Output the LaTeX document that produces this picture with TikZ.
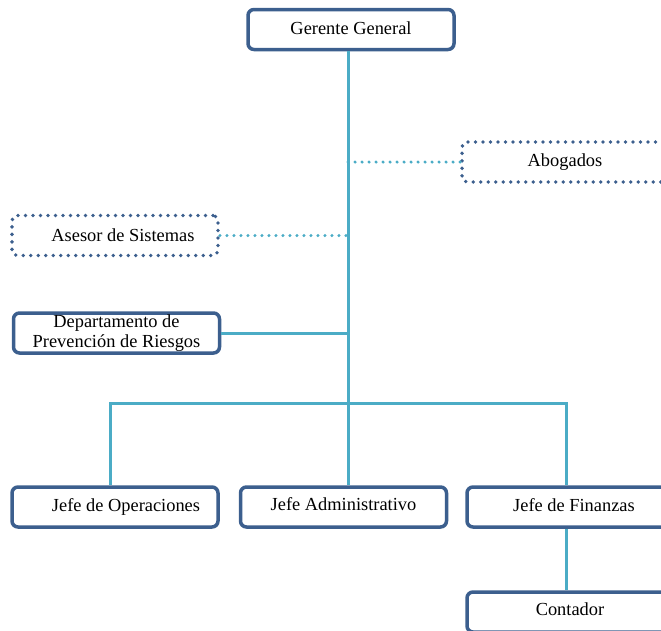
\documentclass[tikz,border=0pt]{standalone}
\usepackage{fontspec}
\setmainfont{Liberation Serif}
\usepackage{tikz}
\usetikzlibrary{positioning}

\definecolor{bordeazul}{RGB}{60,95,142}
\definecolor{lineaceleste}{RGB}{75,172,198}

\tikzset{
	cargo/.style={draw=bordeazul, line width=3.5pt, rounded corners=6pt, fill=white,
		minimum width=206pt, minimum height=40pt, inner sep=0pt, align=center,
		font=\fontsize{18.4}{20.5}\selectfont},
	asesoria/.style={cargo, line width=3.8pt, rounded corners=5pt,
		dash pattern=on 0pt off 7.5pt, line cap=round},
	enlace/.style={draw=lineaceleste, line width=3pt},
	enlacepunteado/.style={enlace, line width=3.3pt, dash pattern=on 0pt off 7pt, line cap=round}
}

\begin{document}
\begin{tikzpicture}[x=1pt, y=-1pt]
			\useasboundingbox (0,0) rectangle (661,630);
			
			% Nodos del organigrama
			\node[cargo] (gerente) at (351, 29.5) {\raisebox{2pt}{Gerente General}};
			\node[asesoria] (abogados) at (565, 162) {\raisebox{4pt}{Abogados}};
			\node[asesoria] (asesor) at (115, 235.5) {\hspace*{16pt}Asesor de Sistemas};
			\node[cargo] (depto) at (116.5, 333) {Departamento de\\Prevención de Riesgos};
			\node[cargo] (operaciones) at (115, 507) {\hspace*{22pt}Jefe de Operaciones};
			\node[cargo] (administrativo) at (343.5, 507) {\raisebox{6pt}{Jefe Administrativo}};
			\node[cargo] (finanzas) at (570, 507) {\hspace*{8pt}\raisebox{3pt}{Jefe de Finanzas}};
			\node[cargo] (contador) at (570, 612) {\raisebox{6pt}{Contador}};
			
			% Puntos de la linea de mando
			\coordinate (tronco) at (348, 403);
			\coordinate (ramaizq) at (110, 403);
			\coordinate (ramader) at (566, 403);
			
			% Lineas de mando
			\draw[enlace] (gerente.south -| tronco) -- (tronco |- administrativo.north);
			\draw[enlace] (ramaizq |- operaciones.north) -- (ramaizq) -- (ramader) -- (ramader |- finanzas.north);
			\draw[enlace] (depto.east) -- (depto.east -| tronco);
			\draw[enlace] (ramader |- finanzas.south) -- (ramader |- contador.north);
			
			% Lineas de asesoria
			\draw[enlacepunteado] (abogados.west) -- (abogados.west -| tronco);
			\draw[enlacepunteado] (asesor.east) -- (asesor.east -| tronco);
		\end{tikzpicture}
\end{document}
